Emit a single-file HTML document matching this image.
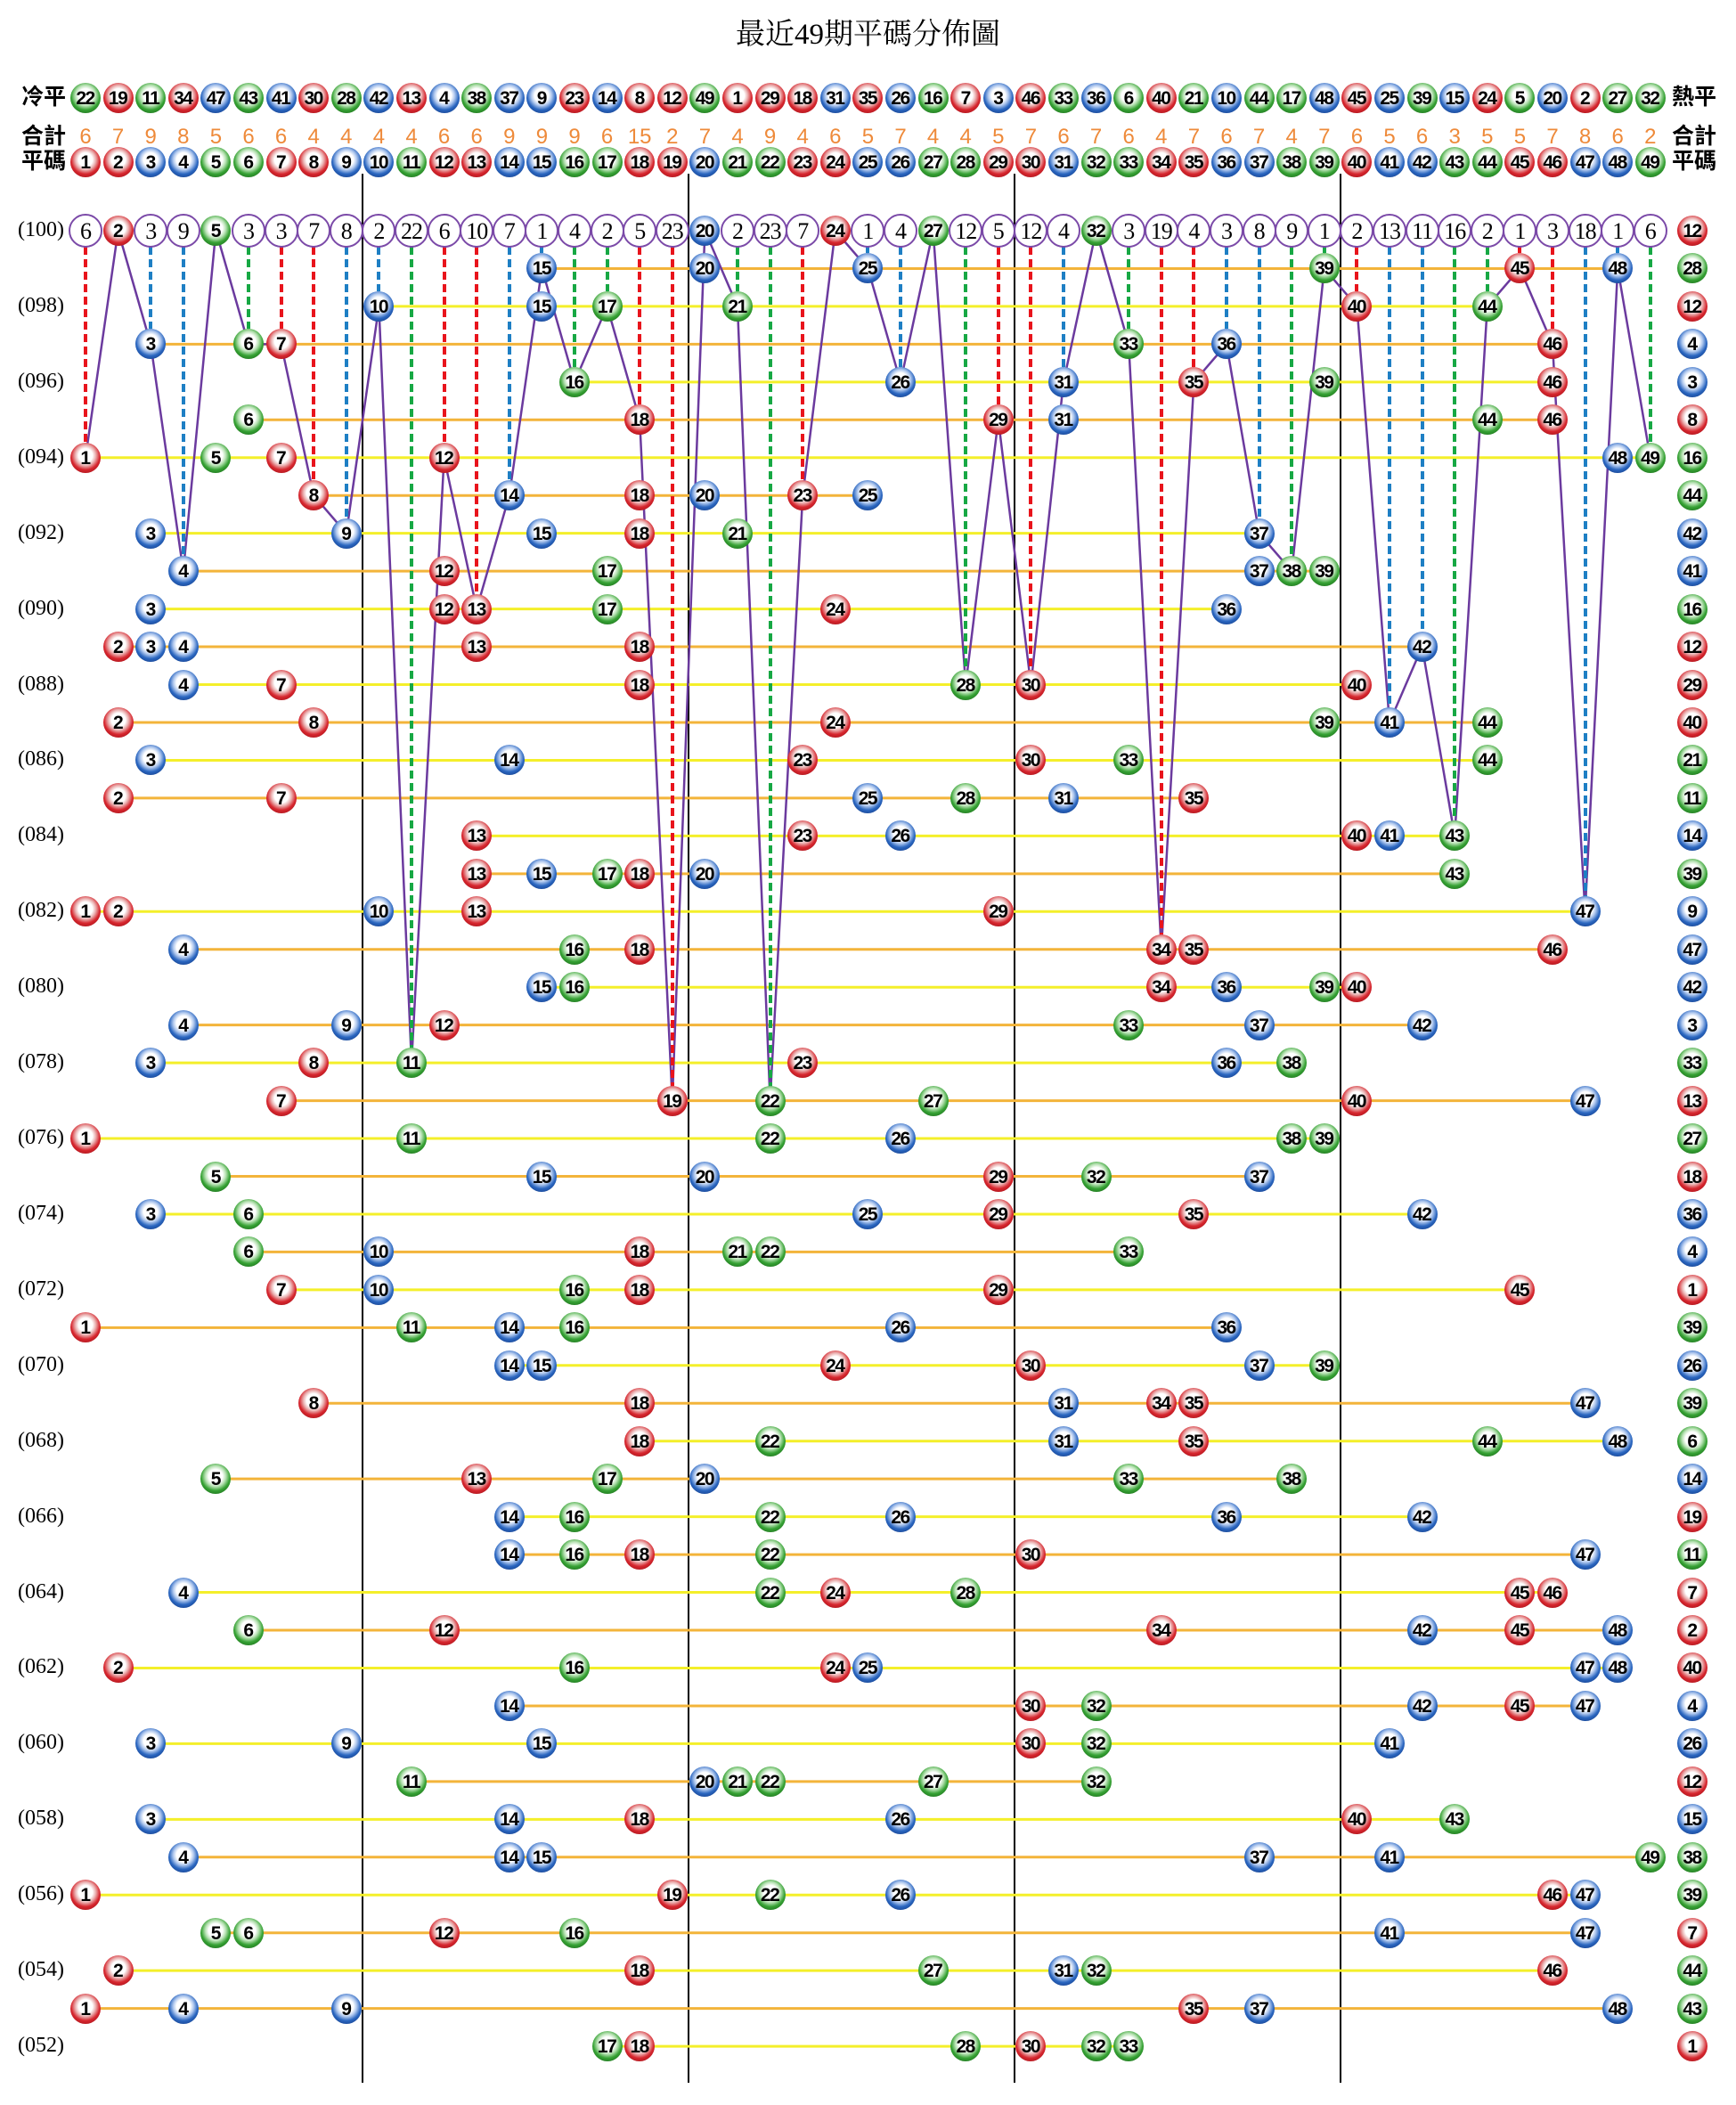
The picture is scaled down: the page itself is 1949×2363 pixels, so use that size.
<!DOCTYPE html>
<html><head><meta charset="utf-8">
<style>
body{margin:0;background:#fff;}
#pg{position:relative;width:1949px;height:2363px;overflow:hidden;background:#fff;font-family:"Liberation Sans",sans-serif;}
.t{position:absolute;left:0;width:1949px;top:12px;text-align:center;font:33px "Liberation Serif","Noto Serif CJK SC",serif;}
.vl{position:absolute;top:195px;width:2px;height:2143px;background:#000;}
svg{position:absolute;left:0;top:0;}
.w{position:absolute;left:0;top:calc(259px + var(--i)*42.46px);width:0;height:0;}
.w i{position:absolute;left:calc(79px + (var(--c) - 1)*36.6px);top:-17px;width:34px;height:34px;border-radius:50%;font:bold 21px/35px "Liberation Sans",sans-serif;text-align:center;font-style:normal;letter-spacing:-1.5px;color:#000;text-indent:-1px;}
.w i.h{left:1883px;}
.r{background:radial-gradient(circle at 50% 42%,#fff 0,#fff 30%,#eab0b0 44%,#d7262e 62%,#a5141b 85%,#e07070 100%);}
.b{background:radial-gradient(circle at 50% 42%,#fff 0,#fff 30%,#b0c8ee 44%,#2a66c0 62%,#163f8a 85%,#6a9ad8 100%);}
.g{background:radial-gradient(circle at 50% 42%,#fff 0,#fff 30%,#b8e2b4 44%,#36a234 62%,#1d6e1c 85%,#78c474 100%);}
.w em{position:absolute;left:calc(77px + (var(--c) - 1)*36.6px);top:-19px;width:34px;height:34px;border:2px solid #7b4aa8;border-radius:50%;background:#fff;font:26px/35px "Liberation Serif",serif;text-align:center;font-style:normal;letter-spacing:-1px;}
.w p{position:absolute;margin:0;left:20px;top:-15px;font:24px/28px "Liberation Serif",serif;white-space:nowrap;}
.w s{position:absolute;left:calc(79px + (var(--c) - 1)*36.6px);width:34px;top:-14px;text-align:center;text-decoration:none;font:24px/28px "Liberation Sans",sans-serif;color:#ee8a3a;}
.w b{position:absolute;top:-16px;white-space:nowrap;font:bold 25px/30px "Liberation Sans","Noto Sans CJK TC",sans-serif;}
.d{position:absolute;width:4px;left:calc(94px + (var(--c) - 1)*36.6px);top:277px;height:calc(var(--g)*42.46px - 35px);}
.dr{background:repeating-linear-gradient(#e8141c 0 9px,transparent 9px 14px);}
.db{background:repeating-linear-gradient(#1e7fc4 0 9px,transparent 9px 14px);}
.dg{background:repeating-linear-gradient(#17a844 0 9px,transparent 9px 14px);}
</style></head><body><div id="pg">
<div class="t">最近49期平碼分佈圖</div>
<div class="vl" style="left:406px"></div><div class="vl" style="left:772px"></div><div class="vl" style="left:1138px"></div><div class="vl" style="left:1504px"></div>
<svg width="1949" height="2363"><g transform="translate(59.4 259) scale(36.6 42.46)" fill="none">
<path vector-effect="non-scaling-stroke" stroke="#f4ef2a" stroke-width="3" d="M10 2H44M16 4H46M1 6H49M3 8H37M3 10H36M4 12H40M3 14H44M13 16H43M1 18H47M15 20H40M3 22H38M1 24H39M3 26H42M7 28H45M14 30H39M18 32H48M14 34H42M4 36H46M2 38H48M3 40H41M3 42H43M1 44H47M2 46H46M17 48H33"/>
<path vector-effect="non-scaling-stroke" stroke="#f3b43a" stroke-width="3" d="M15 1H48M3 3H46M6 5H46M8 7H25M4 9H39M2 11H42M2 13H44M2 15H35M13 17H43M4 19H46M4 21H42M7 23H47M5 25H37M6 27H33M1 29H36M8 31H47M5 33H38M14 35H47M6 37H48M14 39H47M11 41H32M4 43H49M5 45H47M1 47H48"/>
<polyline vector-effect="non-scaling-stroke" stroke="#6b3a9e" stroke-width="2.5" points="1,6 2,0 3,3 4,9 5,0 6,3 7,3 8,7 9,8 10,2 11,22 12,6 13,10 14,7 15,1 16,4 17,2 18,5 19,23 20,0 21,2 22,23 23,7 24,0 25,1 26,4 27,0 28,12 29,5 30,12 31,4 32,0 33,3 34,19 35,4 36,3 37,8 38,9 39,1 40,2 41,13 42,11 43,16 44,2 45,1 46,3 47,18 48,1 49,6"/>
</g></svg>
<div class="d dr" style="--c:1;--g:6"></div><div class="d db" style="--c:3;--g:3"></div><div class="d db" style="--c:4;--g:9"></div><div class="d dg" style="--c:6;--g:3"></div><div class="d dr" style="--c:7;--g:3"></div><div class="d dr" style="--c:8;--g:7"></div><div class="d db" style="--c:9;--g:8"></div><div class="d db" style="--c:10;--g:2"></div><div class="d dg" style="--c:11;--g:22"></div><div class="d dr" style="--c:12;--g:6"></div><div class="d dr" style="--c:13;--g:10"></div><div class="d db" style="--c:14;--g:7"></div><div class="d db" style="--c:15;--g:1"></div><div class="d dg" style="--c:16;--g:4"></div><div class="d dg" style="--c:17;--g:2"></div><div class="d dr" style="--c:18;--g:5"></div><div class="d dr" style="--c:19;--g:23"></div><div class="d dg" style="--c:21;--g:2"></div><div class="d dg" style="--c:22;--g:23"></div><div class="d dr" style="--c:23;--g:7"></div><div class="d db" style="--c:25;--g:1"></div><div class="d db" style="--c:26;--g:4"></div><div class="d dg" style="--c:28;--g:12"></div><div class="d dr" style="--c:29;--g:5"></div><div class="d dr" style="--c:30;--g:12"></div><div class="d db" style="--c:31;--g:4"></div><div class="d dg" style="--c:33;--g:3"></div><div class="d dr" style="--c:34;--g:19"></div><div class="d dr" style="--c:35;--g:4"></div><div class="d db" style="--c:36;--g:3"></div><div class="d db" style="--c:37;--g:8"></div><div class="d dg" style="--c:38;--g:9"></div><div class="d dg" style="--c:39;--g:1"></div><div class="d dr" style="--c:40;--g:2"></div><div class="d db" style="--c:41;--g:13"></div><div class="d db" style="--c:42;--g:11"></div><div class="d dg" style="--c:43;--g:16"></div><div class="d dg" style="--c:44;--g:2"></div><div class="d dr" style="--c:45;--g:1"></div><div class="d dr" style="--c:46;--g:3"></div><div class="d db" style="--c:47;--g:18"></div><div class="d db" style="--c:48;--g:1"></div><div class="d dg" style="--c:49;--g:6"></div>

<div class="w" style="top:110px"><b style="left:24px">冷平</b><b style="left:1877px">熱平</b>
<i class="g" style="--c:1">22</i><i class="r" style="--c:2">19</i><i class="g" style="--c:3">11</i><i class="r" style="--c:4">34</i><i class="b" style="--c:5">47</i><i class="g" style="--c:6">43</i><i class="b" style="--c:7">41</i><i class="r" style="--c:8">30</i><i class="g" style="--c:9">28</i><i class="b" style="--c:10">42</i><i class="r" style="--c:11">13</i><i class="b" style="--c:12">4</i><i class="g" style="--c:13">38</i><i class="b" style="--c:14">37</i><i class="b" style="--c:15">9</i><i class="r" style="--c:16">23</i><i class="b" style="--c:17">14</i><i class="r" style="--c:18">8</i><i class="r" style="--c:19">12</i><i class="g" style="--c:20">49</i><i class="r" style="--c:21">1</i><i class="r" style="--c:22">29</i><i class="r" style="--c:23">18</i><i class="b" style="--c:24">31</i><i class="r" style="--c:25">35</i><i class="b" style="--c:26">26</i><i class="g" style="--c:27">16</i><i class="r" style="--c:28">7</i><i class="b" style="--c:29">3</i><i class="r" style="--c:30">46</i><i class="g" style="--c:31">33</i><i class="b" style="--c:32">36</i><i class="g" style="--c:33">6</i><i class="r" style="--c:34">40</i><i class="g" style="--c:35">21</i><i class="b" style="--c:36">10</i><i class="g" style="--c:37">44</i><i class="g" style="--c:38">17</i><i class="b" style="--c:39">48</i><i class="r" style="--c:40">45</i><i class="b" style="--c:41">25</i><i class="g" style="--c:42">39</i><i class="b" style="--c:43">15</i><i class="r" style="--c:44">24</i><i class="g" style="--c:45">5</i><i class="b" style="--c:46">20</i><i class="r" style="--c:47">2</i><i class="g" style="--c:48">27</i><i class="g" style="--c:49">32</i></div>

<div class="w" style="top:154px"><b style="left:24px">合計</b><b style="left:1877px">合計</b>
<s style="--c:1">6</s><s style="--c:2">7</s><s style="--c:3">9</s><s style="--c:4">8</s><s style="--c:5">5</s><s style="--c:6">6</s><s style="--c:7">6</s><s style="--c:8">4</s><s style="--c:9">4</s><s style="--c:10">4</s><s style="--c:11">4</s><s style="--c:12">6</s><s style="--c:13">6</s><s style="--c:14">9</s><s style="--c:15">9</s><s style="--c:16">9</s><s style="--c:17">6</s><s style="--c:18">15</s><s style="--c:19">2</s><s style="--c:20">7</s><s style="--c:21">4</s><s style="--c:22">9</s><s style="--c:23">4</s><s style="--c:24">6</s><s style="--c:25">5</s><s style="--c:26">7</s><s style="--c:27">4</s><s style="--c:28">4</s><s style="--c:29">5</s><s style="--c:30">7</s><s style="--c:31">6</s><s style="--c:32">7</s><s style="--c:33">6</s><s style="--c:34">4</s><s style="--c:35">7</s><s style="--c:36">6</s><s style="--c:37">7</s><s style="--c:38">4</s><s style="--c:39">7</s><s style="--c:40">6</s><s style="--c:41">5</s><s style="--c:42">6</s><s style="--c:43">3</s><s style="--c:44">5</s><s style="--c:45">5</s><s style="--c:46">7</s><s style="--c:47">8</s><s style="--c:48">6</s><s style="--c:49">2</s></div>

<div class="w" style="top:182px"><b style="left:24px">平碼</b><b style="left:1877px">平碼</b>
<i class="r" style="--c:1">1</i><i class="r" style="--c:2">2</i><i class="b" style="--c:3">3</i><i class="b" style="--c:4">4</i><i class="g" style="--c:5">5</i><i class="g" style="--c:6">6</i><i class="r" style="--c:7">7</i><i class="r" style="--c:8">8</i><i class="b" style="--c:9">9</i><i class="b" style="--c:10">10</i><i class="g" style="--c:11">11</i><i class="r" style="--c:12">12</i><i class="r" style="--c:13">13</i><i class="b" style="--c:14">14</i><i class="b" style="--c:15">15</i><i class="g" style="--c:16">16</i><i class="g" style="--c:17">17</i><i class="r" style="--c:18">18</i><i class="r" style="--c:19">19</i><i class="b" style="--c:20">20</i><i class="g" style="--c:21">21</i><i class="g" style="--c:22">22</i><i class="r" style="--c:23">23</i><i class="r" style="--c:24">24</i><i class="b" style="--c:25">25</i><i class="b" style="--c:26">26</i><i class="g" style="--c:27">27</i><i class="g" style="--c:28">28</i><i class="r" style="--c:29">29</i><i class="r" style="--c:30">30</i><i class="b" style="--c:31">31</i><i class="g" style="--c:32">32</i><i class="g" style="--c:33">33</i><i class="r" style="--c:34">34</i><i class="r" style="--c:35">35</i><i class="b" style="--c:36">36</i><i class="b" style="--c:37">37</i><i class="g" style="--c:38">38</i><i class="g" style="--c:39">39</i><i class="r" style="--c:40">40</i><i class="b" style="--c:41">41</i><i class="b" style="--c:42">42</i><i class="g" style="--c:43">43</i><i class="g" style="--c:44">44</i><i class="r" style="--c:45">45</i><i class="r" style="--c:46">46</i><i class="b" style="--c:47">47</i><i class="b" style="--c:48">48</i><i class="g" style="--c:49">49</i></div>

<div class="w" style="--i:0"><p>(100)</p>
<em style="--c:1">6</em><i class="r" style="--c:2">2</i><em style="--c:3">3</em><em style="--c:4">9</em><i class="g" style="--c:5">5</i><em style="--c:6">3</em><em style="--c:7">3</em><em style="--c:8">7</em><em style="--c:9">8</em><em style="--c:10">2</em><em style="--c:11">22</em><em style="--c:12">6</em><em style="--c:13">10</em><em style="--c:14">7</em><em style="--c:15">1</em><em style="--c:16">4</em><em style="--c:17">2</em><em style="--c:18">5</em><em style="--c:19">23</em><i class="b" style="--c:20">20</i><em style="--c:21">2</em><em style="--c:22">23</em><em style="--c:23">7</em><i class="r" style="--c:24">24</i><em style="--c:25">1</em><em style="--c:26">4</em><i class="g" style="--c:27">27</i><em style="--c:28">12</em><em style="--c:29">5</em><em style="--c:30">12</em><em style="--c:31">4</em><i class="g" style="--c:32">32</i><em style="--c:33">3</em><em style="--c:34">19</em><em style="--c:35">4</em><em style="--c:36">3</em><em style="--c:37">8</em><em style="--c:38">9</em><em style="--c:39">1</em><em style="--c:40">2</em><em style="--c:41">13</em><em style="--c:42">11</em><em style="--c:43">16</em><em style="--c:44">2</em><em style="--c:45">1</em><em style="--c:46">3</em><em style="--c:47">18</em><em style="--c:48">1</em><em style="--c:49">6</em><i class="r h">12</i></div>

<div class="w" style="--i:1"><i class="b" style="--c:15">15</i><i class="b" style="--c:20">20</i><i class="b" style="--c:25">25</i><i class="g" style="--c:39">39</i><i class="r" style="--c:45">45</i><i class="b" style="--c:48">48</i><i class="g h">28</i></div>
<div class="w" style="--i:2"><p>(098)</p><i class="b" style="--c:10">10</i><i class="b" style="--c:15">15</i><i class="g" style="--c:17">17</i><i class="g" style="--c:21">21</i><i class="r" style="--c:40">40</i><i class="g" style="--c:44">44</i><i class="r h">12</i></div>
<div class="w" style="--i:3"><i class="b" style="--c:3">3</i><i class="g" style="--c:6">6</i><i class="r" style="--c:7">7</i><i class="g" style="--c:33">33</i><i class="b" style="--c:36">36</i><i class="r" style="--c:46">46</i><i class="b h">4</i></div>
<div class="w" style="--i:4"><p>(096)</p><i class="g" style="--c:16">16</i><i class="b" style="--c:26">26</i><i class="b" style="--c:31">31</i><i class="r" style="--c:35">35</i><i class="g" style="--c:39">39</i><i class="r" style="--c:46">46</i><i class="b h">3</i></div>
<div class="w" style="--i:5"><i class="g" style="--c:6">6</i><i class="r" style="--c:18">18</i><i class="r" style="--c:29">29</i><i class="b" style="--c:31">31</i><i class="g" style="--c:44">44</i><i class="r" style="--c:46">46</i><i class="r h">8</i></div>
<div class="w" style="--i:6"><p>(094)</p><i class="r" style="--c:1">1</i><i class="g" style="--c:5">5</i><i class="r" style="--c:7">7</i><i class="r" style="--c:12">12</i><i class="b" style="--c:48">48</i><i class="g" style="--c:49">49</i><i class="g h">16</i></div>
<div class="w" style="--i:7"><i class="r" style="--c:8">8</i><i class="b" style="--c:14">14</i><i class="r" style="--c:18">18</i><i class="b" style="--c:20">20</i><i class="r" style="--c:23">23</i><i class="b" style="--c:25">25</i><i class="g h">44</i></div>
<div class="w" style="--i:8"><p>(092)</p><i class="b" style="--c:3">3</i><i class="b" style="--c:9">9</i><i class="b" style="--c:15">15</i><i class="r" style="--c:18">18</i><i class="g" style="--c:21">21</i><i class="b" style="--c:37">37</i><i class="b h">42</i></div>
<div class="w" style="--i:9"><i class="b" style="--c:4">4</i><i class="r" style="--c:12">12</i><i class="g" style="--c:17">17</i><i class="b" style="--c:37">37</i><i class="g" style="--c:38">38</i><i class="g" style="--c:39">39</i><i class="b h">41</i></div>
<div class="w" style="--i:10"><p>(090)</p><i class="b" style="--c:3">3</i><i class="r" style="--c:12">12</i><i class="r" style="--c:13">13</i><i class="g" style="--c:17">17</i><i class="r" style="--c:24">24</i><i class="b" style="--c:36">36</i><i class="g h">16</i></div>
<div class="w" style="--i:11"><i class="r" style="--c:2">2</i><i class="b" style="--c:3">3</i><i class="b" style="--c:4">4</i><i class="r" style="--c:13">13</i><i class="r" style="--c:18">18</i><i class="b" style="--c:42">42</i><i class="r h">12</i></div>
<div class="w" style="--i:12"><p>(088)</p><i class="b" style="--c:4">4</i><i class="r" style="--c:7">7</i><i class="r" style="--c:18">18</i><i class="g" style="--c:28">28</i><i class="r" style="--c:30">30</i><i class="r" style="--c:40">40</i><i class="r h">29</i></div>
<div class="w" style="--i:13"><i class="r" style="--c:2">2</i><i class="r" style="--c:8">8</i><i class="r" style="--c:24">24</i><i class="g" style="--c:39">39</i><i class="b" style="--c:41">41</i><i class="g" style="--c:44">44</i><i class="r h">40</i></div>
<div class="w" style="--i:14"><p>(086)</p><i class="b" style="--c:3">3</i><i class="b" style="--c:14">14</i><i class="r" style="--c:23">23</i><i class="r" style="--c:30">30</i><i class="g" style="--c:33">33</i><i class="g" style="--c:44">44</i><i class="g h">21</i></div>
<div class="w" style="--i:15"><i class="r" style="--c:2">2</i><i class="r" style="--c:7">7</i><i class="b" style="--c:25">25</i><i class="g" style="--c:28">28</i><i class="b" style="--c:31">31</i><i class="r" style="--c:35">35</i><i class="g h">11</i></div>
<div class="w" style="--i:16"><p>(084)</p><i class="r" style="--c:13">13</i><i class="r" style="--c:23">23</i><i class="b" style="--c:26">26</i><i class="r" style="--c:40">40</i><i class="b" style="--c:41">41</i><i class="g" style="--c:43">43</i><i class="b h">14</i></div>
<div class="w" style="--i:17"><i class="r" style="--c:13">13</i><i class="b" style="--c:15">15</i><i class="g" style="--c:17">17</i><i class="r" style="--c:18">18</i><i class="b" style="--c:20">20</i><i class="g" style="--c:43">43</i><i class="g h">39</i></div>
<div class="w" style="--i:18"><p>(082)</p><i class="r" style="--c:1">1</i><i class="r" style="--c:2">2</i><i class="b" style="--c:10">10</i><i class="r" style="--c:13">13</i><i class="r" style="--c:29">29</i><i class="b" style="--c:47">47</i><i class="b h">9</i></div>
<div class="w" style="--i:19"><i class="b" style="--c:4">4</i><i class="g" style="--c:16">16</i><i class="r" style="--c:18">18</i><i class="r" style="--c:34">34</i><i class="r" style="--c:35">35</i><i class="r" style="--c:46">46</i><i class="b h">47</i></div>
<div class="w" style="--i:20"><p>(080)</p><i class="b" style="--c:15">15</i><i class="g" style="--c:16">16</i><i class="r" style="--c:34">34</i><i class="b" style="--c:36">36</i><i class="g" style="--c:39">39</i><i class="r" style="--c:40">40</i><i class="b h">42</i></div>
<div class="w" style="--i:21"><i class="b" style="--c:4">4</i><i class="b" style="--c:9">9</i><i class="r" style="--c:12">12</i><i class="g" style="--c:33">33</i><i class="b" style="--c:37">37</i><i class="b" style="--c:42">42</i><i class="b h">3</i></div>
<div class="w" style="--i:22"><p>(078)</p><i class="b" style="--c:3">3</i><i class="r" style="--c:8">8</i><i class="g" style="--c:11">11</i><i class="r" style="--c:23">23</i><i class="b" style="--c:36">36</i><i class="g" style="--c:38">38</i><i class="g h">33</i></div>
<div class="w" style="--i:23"><i class="r" style="--c:7">7</i><i class="r" style="--c:19">19</i><i class="g" style="--c:22">22</i><i class="g" style="--c:27">27</i><i class="r" style="--c:40">40</i><i class="b" style="--c:47">47</i><i class="r h">13</i></div>
<div class="w" style="--i:24"><p>(076)</p><i class="r" style="--c:1">1</i><i class="g" style="--c:11">11</i><i class="g" style="--c:22">22</i><i class="b" style="--c:26">26</i><i class="g" style="--c:38">38</i><i class="g" style="--c:39">39</i><i class="g h">27</i></div>
<div class="w" style="--i:25"><i class="g" style="--c:5">5</i><i class="b" style="--c:15">15</i><i class="b" style="--c:20">20</i><i class="r" style="--c:29">29</i><i class="g" style="--c:32">32</i><i class="b" style="--c:37">37</i><i class="r h">18</i></div>
<div class="w" style="--i:26"><p>(074)</p><i class="b" style="--c:3">3</i><i class="g" style="--c:6">6</i><i class="b" style="--c:25">25</i><i class="r" style="--c:29">29</i><i class="r" style="--c:35">35</i><i class="b" style="--c:42">42</i><i class="b h">36</i></div>
<div class="w" style="--i:27"><i class="g" style="--c:6">6</i><i class="b" style="--c:10">10</i><i class="r" style="--c:18">18</i><i class="g" style="--c:21">21</i><i class="g" style="--c:22">22</i><i class="g" style="--c:33">33</i><i class="b h">4</i></div>
<div class="w" style="--i:28"><p>(072)</p><i class="r" style="--c:7">7</i><i class="b" style="--c:10">10</i><i class="g" style="--c:16">16</i><i class="r" style="--c:18">18</i><i class="r" style="--c:29">29</i><i class="r" style="--c:45">45</i><i class="r h">1</i></div>
<div class="w" style="--i:29"><i class="r" style="--c:1">1</i><i class="g" style="--c:11">11</i><i class="b" style="--c:14">14</i><i class="g" style="--c:16">16</i><i class="b" style="--c:26">26</i><i class="b" style="--c:36">36</i><i class="g h">39</i></div>
<div class="w" style="--i:30"><p>(070)</p><i class="b" style="--c:14">14</i><i class="b" style="--c:15">15</i><i class="r" style="--c:24">24</i><i class="r" style="--c:30">30</i><i class="b" style="--c:37">37</i><i class="g" style="--c:39">39</i><i class="b h">26</i></div>
<div class="w" style="--i:31"><i class="r" style="--c:8">8</i><i class="r" style="--c:18">18</i><i class="b" style="--c:31">31</i><i class="r" style="--c:34">34</i><i class="r" style="--c:35">35</i><i class="b" style="--c:47">47</i><i class="g h">39</i></div>
<div class="w" style="--i:32"><p>(068)</p><i class="r" style="--c:18">18</i><i class="g" style="--c:22">22</i><i class="b" style="--c:31">31</i><i class="r" style="--c:35">35</i><i class="g" style="--c:44">44</i><i class="b" style="--c:48">48</i><i class="g h">6</i></div>
<div class="w" style="--i:33"><i class="g" style="--c:5">5</i><i class="r" style="--c:13">13</i><i class="g" style="--c:17">17</i><i class="b" style="--c:20">20</i><i class="g" style="--c:33">33</i><i class="g" style="--c:38">38</i><i class="b h">14</i></div>
<div class="w" style="--i:34"><p>(066)</p><i class="b" style="--c:14">14</i><i class="g" style="--c:16">16</i><i class="g" style="--c:22">22</i><i class="b" style="--c:26">26</i><i class="b" style="--c:36">36</i><i class="b" style="--c:42">42</i><i class="r h">19</i></div>
<div class="w" style="--i:35"><i class="b" style="--c:14">14</i><i class="g" style="--c:16">16</i><i class="r" style="--c:18">18</i><i class="g" style="--c:22">22</i><i class="r" style="--c:30">30</i><i class="b" style="--c:47">47</i><i class="g h">11</i></div>
<div class="w" style="--i:36"><p>(064)</p><i class="b" style="--c:4">4</i><i class="g" style="--c:22">22</i><i class="r" style="--c:24">24</i><i class="g" style="--c:28">28</i><i class="r" style="--c:45">45</i><i class="r" style="--c:46">46</i><i class="r h">7</i></div>
<div class="w" style="--i:37"><i class="g" style="--c:6">6</i><i class="r" style="--c:12">12</i><i class="r" style="--c:34">34</i><i class="b" style="--c:42">42</i><i class="r" style="--c:45">45</i><i class="b" style="--c:48">48</i><i class="r h">2</i></div>
<div class="w" style="--i:38"><p>(062)</p><i class="r" style="--c:2">2</i><i class="g" style="--c:16">16</i><i class="r" style="--c:24">24</i><i class="b" style="--c:25">25</i><i class="b" style="--c:47">47</i><i class="b" style="--c:48">48</i><i class="r h">40</i></div>
<div class="w" style="--i:39"><i class="b" style="--c:14">14</i><i class="r" style="--c:30">30</i><i class="g" style="--c:32">32</i><i class="b" style="--c:42">42</i><i class="r" style="--c:45">45</i><i class="b" style="--c:47">47</i><i class="b h">4</i></div>
<div class="w" style="--i:40"><p>(060)</p><i class="b" style="--c:3">3</i><i class="b" style="--c:9">9</i><i class="b" style="--c:15">15</i><i class="r" style="--c:30">30</i><i class="g" style="--c:32">32</i><i class="b" style="--c:41">41</i><i class="b h">26</i></div>
<div class="w" style="--i:41"><i class="g" style="--c:11">11</i><i class="b" style="--c:20">20</i><i class="g" style="--c:21">21</i><i class="g" style="--c:22">22</i><i class="g" style="--c:27">27</i><i class="g" style="--c:32">32</i><i class="r h">12</i></div>
<div class="w" style="--i:42"><p>(058)</p><i class="b" style="--c:3">3</i><i class="b" style="--c:14">14</i><i class="r" style="--c:18">18</i><i class="b" style="--c:26">26</i><i class="r" style="--c:40">40</i><i class="g" style="--c:43">43</i><i class="b h">15</i></div>
<div class="w" style="--i:43"><i class="b" style="--c:4">4</i><i class="b" style="--c:14">14</i><i class="b" style="--c:15">15</i><i class="b" style="--c:37">37</i><i class="b" style="--c:41">41</i><i class="g" style="--c:49">49</i><i class="g h">38</i></div>
<div class="w" style="--i:44"><p>(056)</p><i class="r" style="--c:1">1</i><i class="r" style="--c:19">19</i><i class="g" style="--c:22">22</i><i class="b" style="--c:26">26</i><i class="r" style="--c:46">46</i><i class="b" style="--c:47">47</i><i class="g h">39</i></div>
<div class="w" style="--i:45"><i class="g" style="--c:5">5</i><i class="g" style="--c:6">6</i><i class="r" style="--c:12">12</i><i class="g" style="--c:16">16</i><i class="b" style="--c:41">41</i><i class="b" style="--c:47">47</i><i class="r h">7</i></div>
<div class="w" style="--i:46"><p>(054)</p><i class="r" style="--c:2">2</i><i class="r" style="--c:18">18</i><i class="g" style="--c:27">27</i><i class="b" style="--c:31">31</i><i class="g" style="--c:32">32</i><i class="r" style="--c:46">46</i><i class="g h">44</i></div>
<div class="w" style="--i:47"><i class="r" style="--c:1">1</i><i class="b" style="--c:4">4</i><i class="b" style="--c:9">9</i><i class="r" style="--c:35">35</i><i class="b" style="--c:37">37</i><i class="b" style="--c:48">48</i><i class="g h">43</i></div>
<div class="w" style="--i:48"><p>(052)</p><i class="g" style="--c:17">17</i><i class="r" style="--c:18">18</i><i class="g" style="--c:28">28</i><i class="r" style="--c:30">30</i><i class="g" style="--c:32">32</i><i class="g" style="--c:33">33</i><i class="r h">1</i></div>
</div></body></html>
